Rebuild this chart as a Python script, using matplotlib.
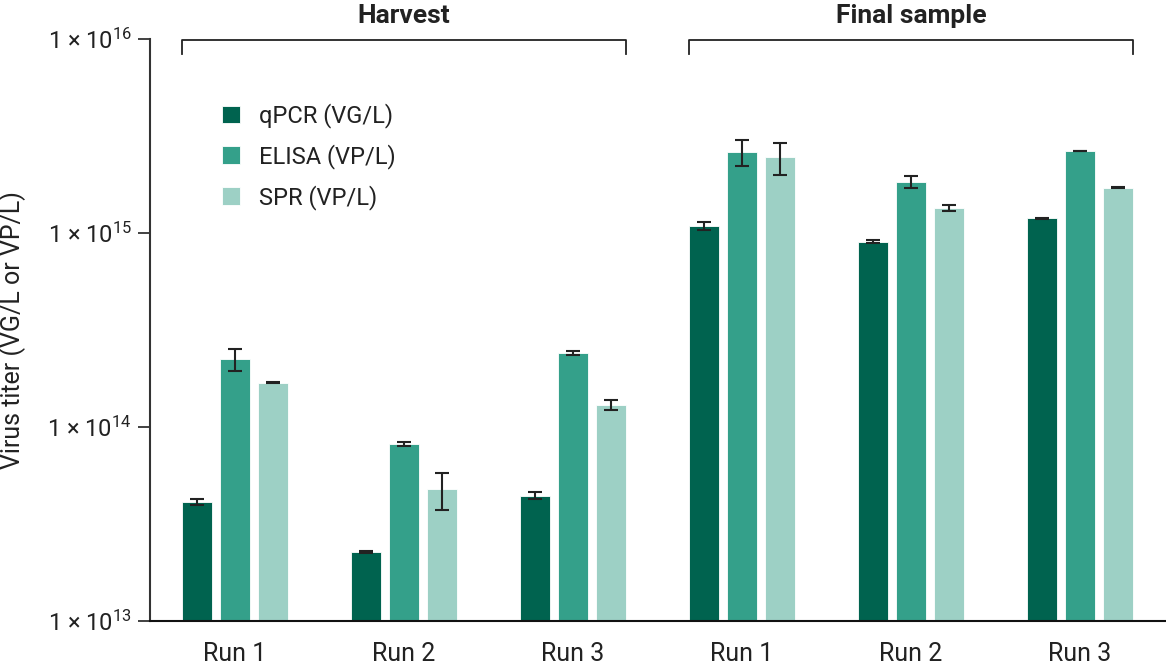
import matplotlib.pyplot as plt
import matplotlib.transforms as mtransforms
import numpy as np

plt.rcParams['font.family'] = ['Roboto', 'DejaVu Sans']
plt.rcParams['mathtext.fontset'] = 'custom'
plt.rcParams['mathtext.rm'] = 'Roboto'
plt.rcParams['mathtext.it'] = 'Roboto:italic'
plt.rcParams['mathtext.bf'] = 'Roboto:bold'

# groups: Harvest run 1-3, Final sample run 1-3
runs = ['Run 1', 'Run 2', 'Run 3', 'Run 1', 'Run 2', 'Run 3']
series = ['qPCR (VG/L)', 'ELISA (VP/L)', 'SPR (VP/L)']

qpcr = [4.1e13, 2.27e13, 4.41e13, 1.09e15, 8.99e14, 1.19e15]
qpcr_lo = [3.95e13, 2.24e13, 4.25e13, 1.04e15, 8.85e14, 1.18e15]
qpcr_hi = [4.25e13, 2.30e13, 4.6e13, 1.14e15, 9.15e14, 1.20e15]

elisa = [2.24e14, 8.17e13, 2.41e14, 2.62e15, 1.83e15, 2.65e15]
elisa_lo = [1.95e14, 8.0e13, 2.36e14, 2.21e15, 1.71e15, 2.64e15]
elisa_hi = [2.52e14, 8.35e13, 2.46e14, 3.01e15, 1.97e15, 2.66e15]

spr = [1.69e14, 4.79e13, 1.30e14, 2.46e15, 1.35e15, 1.71e15]
spr_lo = [1.68e14, 3.73e13, 1.23e14, 1.99e15, 1.30e15, 1.70e15]
spr_hi = [1.70e14, 5.79e13, 1.38e14, 2.91e15, 1.40e15, 1.72e15]

colors = ['#00634f', '#34a08a', '#9dd0c5']

fig = plt.figure(figsize=(11.66, 6.68), dpi=100)
ax = fig.add_axes([0.1286, 0.0704, 0.8714, 0.8712])

x = np.arange(len(runs))
width = 0.178
offset = 0.225

data = [(qpcr, qpcr_lo, qpcr_hi), (elisa, elisa_lo, elisa_hi), (spr, spr_lo, spr_hi)]
for i, (vals, lo, hi) in enumerate(data):
    vals = np.array(vals)
    yerr = [vals - np.array(lo), np.array(hi) - vals]
    ax.bar(x + (i - 1) * offset, vals, width, color=colors[i], label=series[i],
           edgecolor='white', linewidth=0.6)
    ax.errorbar(x + (i - 1) * offset, vals, yerr=yerr, fmt='none', ecolor='#222222',
                elinewidth=1.5, capsize=5, capthick=1.5)

ax.set_yscale('log')
ax.set_ylim(1e13, 1e16)
ax.set_xlim(-0.503, 5.51)
ax.set_yticks([1e13, 1e14, 1e15, 1e16])
ax.set_yticklabels(['1 × 10$^{13}$', '1 × 10$^{14}$', '1 × 10$^{15}$', '1 × 10$^{16}$'])
ax.minorticks_off()
ax.tick_params(axis='y', which='major', length=9, width=1.3, color='#333333',
               labelsize=17, pad=4, labelcolor='#222222')
ax.set_xticks(x)
ax.set_xticklabels(runs)
ax.tick_params(axis='x', length=0, labelsize=18, pad=15, labelcolor='#222222')

ax.spines['top'].set_visible(False)
ax.spines['right'].set_visible(False)
ax.spines['left'].set_color('#333333')
ax.spines['left'].set_linewidth(1.5)
ax.spines['bottom'].set_color('#111111')
ax.spines['bottom'].set_linewidth(1.5)

ax.set_ylabel('Virus titer (VG/L or VP/L)', fontsize=18, color='#222222')
ax.yaxis.set_label_coords(-0.122, 0.5)

# group brackets
trans = mtransforms.blended_transform_factory(ax.transData, ax.transAxes)
for start, end, name in [(0, 2, 'Harvest'), (3, 5, 'Final sample')]:
    left = start - offset - width / 2
    right = end + offset + width / 2
    ax.plot([left, left, right, right], [0.974, 0.998, 0.998, 0.974], color='#222222',
            linewidth=1.3, transform=trans, clip_on=False)
    ax.text((start + end) / 2, 1.04, name, transform=trans, ha='center', va='center',
            fontsize=19, fontweight='bold', color='#222222')

ax.legend(loc='upper left', bbox_to_anchor=(0.0709, 0.89), frameon=False,
          fontsize=17, handlelength=0.75, handleheight=0.75, handletextpad=0.8,
          labelspacing=0.68, borderpad=0, borderaxespad=0, labelcolor='#222222')

plt.savefig('out.png', dpi=100)
